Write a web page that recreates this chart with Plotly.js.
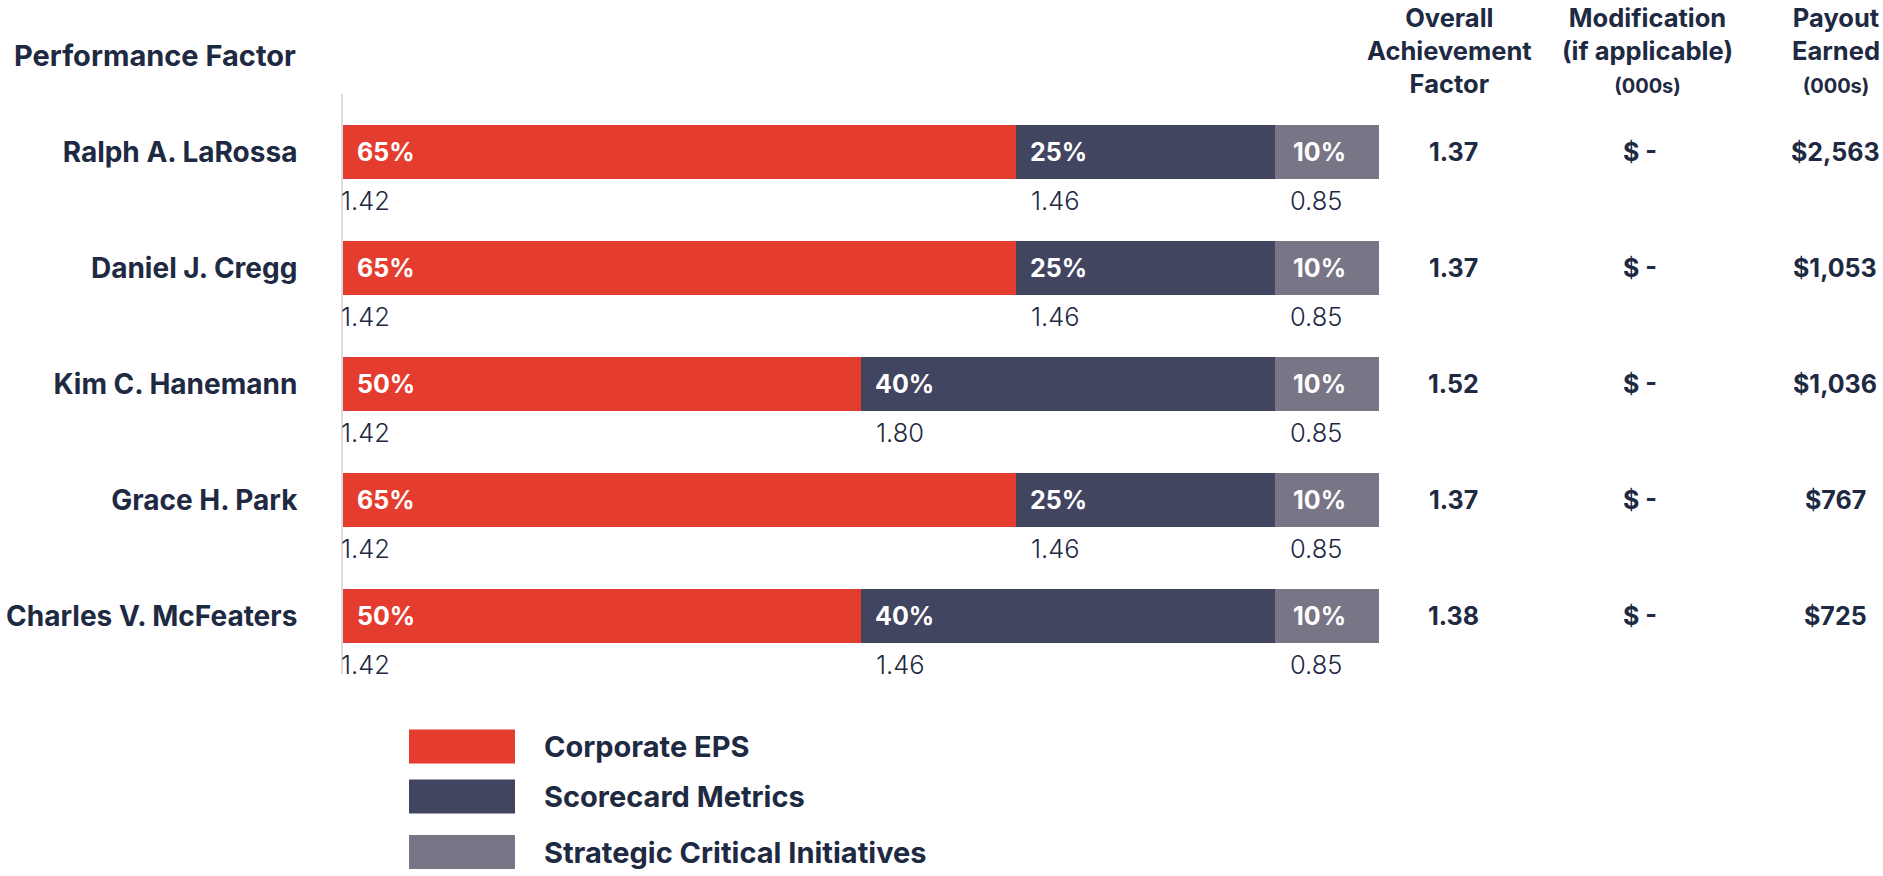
<!DOCTYPE html>
<html>
<head>
<meta charset="utf-8">
<script src="https://cdn.plot.ly/plotly-3.0.1.min.js"></script>
<style>html,body{margin:0;padding:0;background:#fff;}#chart{width:1883px;height:876px;}</style>
</head>
<body>
<div id="chart"></div>
<script>
// ---- data ----
const names = ['Ralph A. LaRossa', 'Daniel J. Cregg', 'Kim C. Hanemann', 'Grace H. Park', 'Charles V. McFeaters'];
const seriesNames = ['Corporate EPS', 'Scorecard Metrics', 'Strategic Critical Initiatives'];
const epsWeight = [65, 65, 50, 65, 50];
const scorecardWeight = [25, 25, 40, 25, 40];
const sciWeight = [10, 10, 10, 10, 10];
const epsFactor = ['1.42', '1.42', '1.42', '1.42', '1.42'];
const scorecardFactor = ['1.46', '1.46', '1.80', '1.46', '1.46'];
const sciFactor = ['0.85', '0.85', '0.85', '0.85', '0.85'];
const overallFactor = ['1.37', '1.37', '1.52', '1.37', '1.38'];
const modification = ['$ -', '$ -', '$ -', '$ -', '$ -'];
const payout = ['$2,563', '$1,053', '$1,036', '$767', '$725'];
const columnHeaders = [
  'Overall<br>Achievement<br>Factor',
  'Modification<br>(if applicable)<br><span style="font-size:20px">(000s)</span>',
  'Payout<br>Earned<br><span style="font-size:20px">(000s)</span>'
];
const rowHeader = 'Performance Factor';

// ---- styling ----
const colors = ['#e43d30', '#424560', '#787586'];
const navy = '#1e2942';
const FONT = 'Inter, "Open Sans", sans-serif';
const W = 1883, H = 876;
const M = {l: 343, r: W - 1379, t: 94, b: H - 674};
const PW = W - M.l - M.r, PH = H - M.t - M.b;
const px = x => (x - M.l) / PW;
const py = y => (H - M.b - y) / PH;

const weights = [epsWeight, scorecardWeight, sciWeight];
const factors = [epsFactor, scorecardFactor, sciFactor];

const traces = weights.map((w, k) => ({
  type: 'bar',
  orientation: 'h',
  name: seriesNames[k],
  y: names,
  x: w,
  marker: {color: colors[k], line: {width: 0}},
  hoverinfo: 'skip',
  showlegend: false
}));

const annotations = [];
const shapes = [];

// segment labels and factors
names.forEach((n, i) => {
  let start = 0;
  weights.forEach((w, k) => {
    annotations.push({
      x: start, y: n, xref: 'x', yref: 'y', xanchor: 'left', yanchor: 'middle',
      text: w[i] + '%', showarrow: false, xshift: k === 2 ? 16 : 12,
      font: {family: FONT, size: 25, color: '#ffffff', weight: 700}
    });
    annotations.push({
      x: start, y: n, xref: 'x', yref: 'y', xanchor: 'left', yanchor: 'middle',
      text: factors[k][i], showarrow: false, xshift: k === 0 ? -4 : 13, yshift: -48,
      font: {family: FONT, size: 25.5, color: navy, weight: 300}
    });
    start += w[i];
  });
  [[overallFactor, 1453], [modification, 1640], [payout, 1835]].forEach(([arr, cx]) => {
    annotations.push({
      x: px(cx), y: n, xref: 'paper', yref: 'y', xanchor: 'center', yanchor: 'middle',
      text: arr[i], showarrow: false,
      font: {family: FONT, size: 25, color: navy, weight: 700}
    });
  });
});

// column headers
[1449, 1647, 1836].forEach((cx, j) => {
  annotations.push({
    x: px(cx), y: py(50), xref: 'paper', yref: 'paper', xanchor: 'center', yanchor: 'middle',
    text: columnHeaders[j], showarrow: false, align: 'center',
    font: {family: FONT, size: 25.5, color: navy, weight: 700}
  });
});
annotations.push({
  x: px(12), y: py(55), xref: 'paper', yref: 'paper', xanchor: 'left', yanchor: 'middle',
  text: rowHeader, showarrow: false,
  font: {family: FONT, size: 29, color: navy, weight: 700}
});

// legend
const legendRows = [746.5, 796.5, 852];
seriesNames.forEach((s, k) => {
  const cy = legendRows[k];
  shapes.push({
    type: 'rect', xref: 'paper', yref: 'paper',
    x0: px(409), x1: px(515), y0: py(cy + 17), y1: py(cy - 17),
    fillcolor: colors[k], line: {width: 0}
  });
  annotations.push({
    x: px(542), y: py(cy), xref: 'paper', yref: 'paper', xanchor: 'left', yanchor: 'middle',
    text: s, showarrow: false,
    font: {family: FONT, size: 29, color: navy, weight: 700}
  });
});

const layout = {
  width: W, height: H,
  margin: M,
  paper_bgcolor: '#ffffff', plot_bgcolor: '#ffffff',
  barmode: 'stack', bargap: 0.54,
  showlegend: false,
  xaxis: {range: [0, 100], visible: false, fixedrange: true},
  yaxis: {
    type: 'category', range: [4.5, -0.5], autorange: false, showline: true, linecolor: '#dcdce3', linewidth: 2,
    showgrid: false, zeroline: false, ticks: '', ticklabelstandoff: 38,
    tickfont: {family: FONT, size: 28, color: navy, weight: 700}, fixedrange: true
  },
  annotations: annotations,
  shapes: shapes,
  hovermode: false
};

Plotly.newPlot('chart', traces, layout, {displayModeBar: false, staticPlot: true});
</script>
</body>
</html>
